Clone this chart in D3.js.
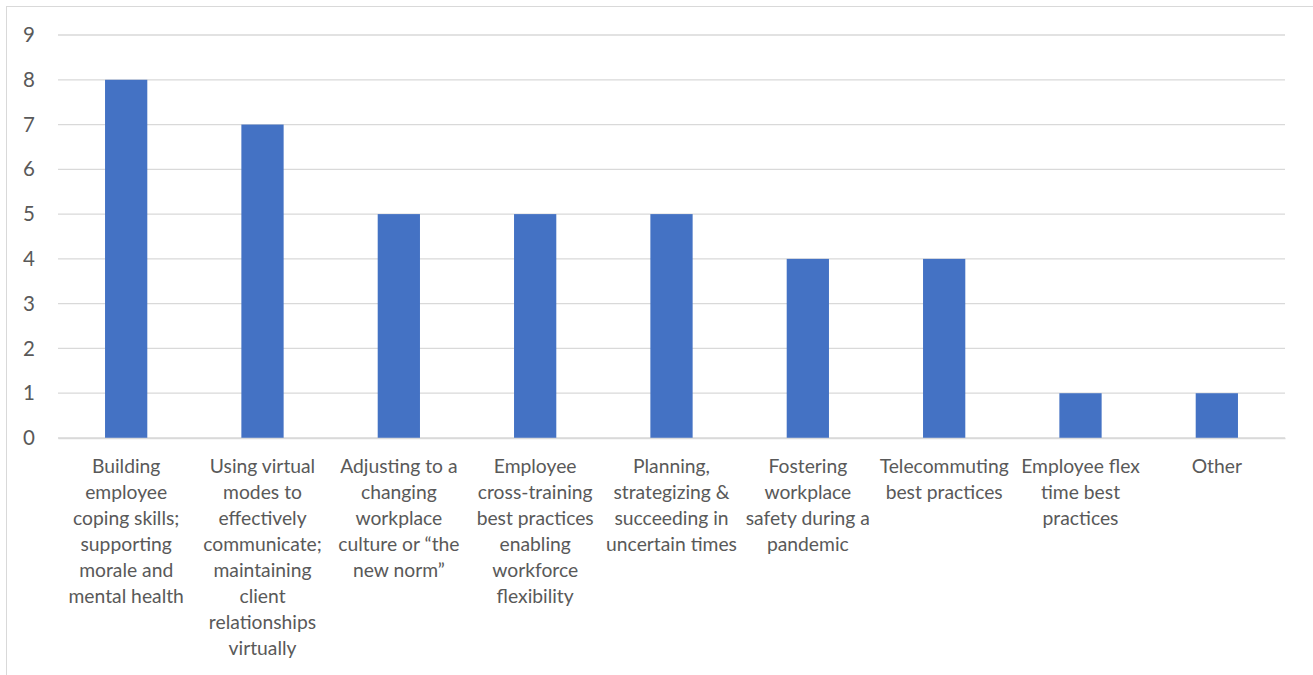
<!DOCTYPE html>
<html><head><meta charset="utf-8">
<script src="https://cdn.jsdelivr.net/npm/d3@7"></script>
<style>body{margin:0;background:#fff}svg{display:block}</style>
</head><body>
<script>
const categories = [
  ["Building","employee","coping skills;","supporting","morale and","mental health"],
  ["Using virtual","modes to","effectively","communicate;","maintaining","client","relationships","virtually"],
  ["Adjusting to a","changing","workplace","culture or \u201cthe","new norm\u201d"],
  ["Employee","cross-training","best practices","enabling","workforce","flexibility"],
  ["Planning,","strategizing &","succeeding in","uncertain times"],
  ["Fostering","workplace","safety during a","pandemic"],
  ["Telecommuting","best practices"],
  ["Employee flex","time best","practices"],
  ["Other"]
];
const values = [8,7,5,5,5,4,4,1,1];
const yTicks = [0,1,2,3,4,5,6,7,8,9];

(function(){
const W = 1313, H = 675;
const svg = d3.select("body").append("svg").attr("width",W).attr("height",H);
svg.append("rect").attr("x",6.5).attr("y",6.5).attr("width",W).attr("height",H)
  .attr("fill","#fff").attr("stroke","#d9d9d9").attr("stroke-width",1);

const mLeft = 58, mRight = 1285, mTop = 35, mBottom = 438;
const x = d3.scaleBand().domain(d3.range(categories.length)).range([mLeft,mRight]).paddingInner(0.69).paddingOuter(0.345);
const y = d3.scaleLinear().domain([0,9]).range([mBottom,mTop]);
const font = "Lato, 'Open Sans', sans-serif";

svg.append("g").selectAll("line").data(yTicks).join("line")
  .attr("x1",mLeft).attr("x2",mRight).attr("y1",d=>y(d)).attr("y2",d=>y(d))
  .attr("stroke","#d9d9d9").attr("stroke-width",1.3);

const yAxis = svg.append("g").attr("transform",`translate(${mLeft},0)`)
  .call(d3.axisLeft(y).tickValues(yTicks).tickSize(0).tickPadding(23));
yAxis.select(".domain").remove();
yAxis.selectAll("text").attr("font-family",font).attr("font-size",20.5).attr("fill","#595959");

svg.append("g").selectAll("rect").data(values).join("rect")
  .attr("x",(d,i)=>x(i)).attr("width",x.bandwidth())
  .attr("y",d=>y(d)).attr("height",d=>y(0)-y(d)).attr("fill","#4472c4");

const xAxis = svg.append("g").attr("transform",`translate(0,${mBottom})`)
  .call(d3.axisBottom(x).tickSize(0).tickFormat(""));
xAxis.select(".domain").attr("stroke","#d9d9d9").attr("stroke-width",1.3);
xAxis.selectAll(".tick").each(function(d){
  const t = d3.select(this).append("text").attr("font-family",font).attr("font-size",19.3)
    .attr("fill","#595959").attr("text-anchor","middle");
  categories[d].forEach((s,k)=>{
    t.append("tspan").attr("x",0).attr("y",35+k*26).text(s);
  });
});
})();
</script>
</body></html>
